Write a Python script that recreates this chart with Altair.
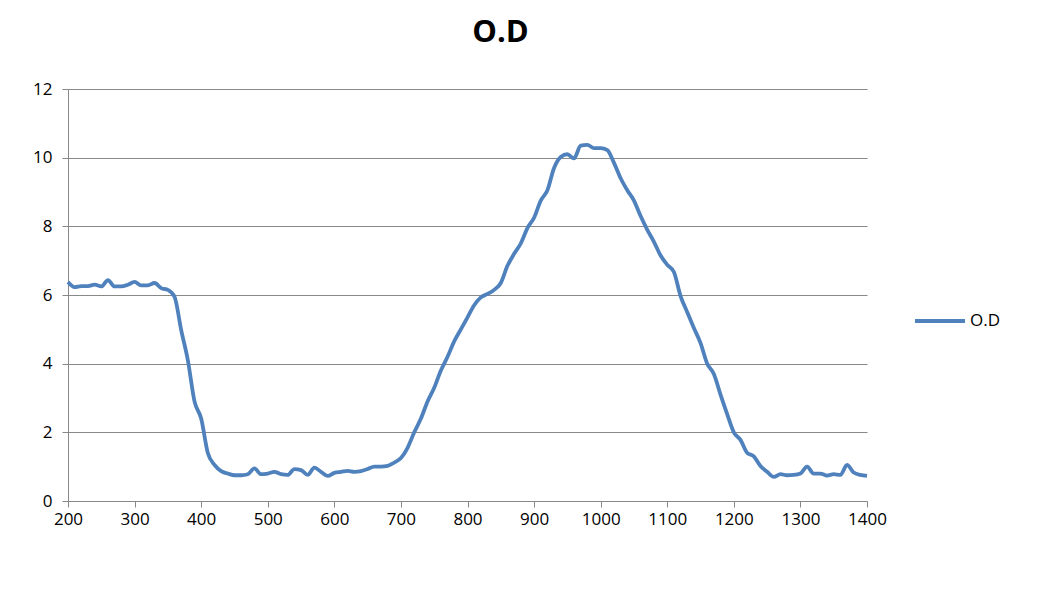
import altair as alt
import pandas as pd

wavelength = list(range(200, 1401, 10))
od = [6.38, 6.23, 6.26, 6.26, 6.30, 6.25, 6.43, 6.25, 6.25, 6.30,
      6.38, 6.28, 6.28, 6.35, 6.20, 6.15, 5.95, 4.98, 4.10, 2.90,
      2.40, 1.40, 1.05, 0.87, 0.80, 0.75, 0.75, 0.78, 0.95, 0.78,
      0.80, 0.85, 0.78, 0.76, 0.93, 0.90, 0.76, 0.97, 0.85, 0.73,
      0.82, 0.85, 0.88, 0.85, 0.87, 0.93, 1.00, 1.00, 1.02, 1.12,
      1.25, 1.55, 2.00, 2.40, 2.90, 3.30, 3.80, 4.20, 4.65, 5.00,
      5.35, 5.70, 5.93, 6.03, 6.15, 6.35, 6.85, 7.20, 7.50, 7.95,
      8.25, 8.75, 9.05, 9.70, 10.02, 10.10, 9.98, 10.35, 10.37, 10.28,
      10.28, 10.22, 9.85, 9.40, 9.05, 8.75, 8.30, 7.90, 7.55, 7.15,
      6.88, 6.67, 5.97, 5.50, 5.04, 4.60, 4.00, 3.70, 3.10, 2.53,
      2.00, 1.78, 1.40, 1.30, 1.02, 0.85, 0.70, 0.78, 0.75, 0.76,
      0.80, 1.00, 0.80, 0.80, 0.74, 0.78, 0.76, 1.05, 0.83, 0.76,
      0.73]
series_name = "O.D"
x_ticks = list(range(200, 1401, 100))
y_ticks = [0, 2, 4, 6, 8, 10, 12]

df = pd.DataFrame({"x": wavelength, "y": od, "series": series_name})

font = "Open Sans"

chart = alt.Chart(df).mark_line(strokeWidth=3.8, interpolate="monotone").encode(
    x=alt.X("x:Q", scale=alt.Scale(domain=[200, 1400], nice=False, zero=False),
            axis=alt.Axis(values=x_ticks, format="d", title=None, grid=False,
                          labelFontSize=17, labelFont=font, labelColor="#000",
                          domainColor="#888", tickColor="#888", tickSize=6,
                          labelPadding=4, labelFlush=False)),
    y=alt.Y("y:Q", scale=alt.Scale(domain=[0, 12], nice=False),
            axis=alt.Axis(values=y_ticks, title=None, grid=True, gridColor="#888",
                          labelFontSize=17, labelFont=font, labelColor="#000",
                          domainColor="#888", tickColor="#888", tickSize=6,
                          labelPadding=10)),
    color=alt.Color("series:N", scale=alt.Scale(range=["#4F81BD"]),
                    legend=alt.Legend(title=None, orient="none", legendX=845, legendY=205,
                                      symbolType="stroke", symbolSize=2500,
                                      symbolStrokeWidth=4, labelFontSize=17,
                                      labelFont=font, labelColor="#000",
                                      labelOffset=3)),
).properties(
    width=799, height=412,
    title=alt.TitleParams("O.D", fontSize=31, font=font, fontWeight="bold",
                          anchor="middle", dx=33, offset=31, color="#000"),
    autosize=alt.AutoSizeParams(type="none"),
    padding={"left": 60, "top": 81, "right": 180, "bottom": 90},
).configure_view(stroke=None)

chart.save("out.html", embed_options={"renderer": "svg", "actions": False})
